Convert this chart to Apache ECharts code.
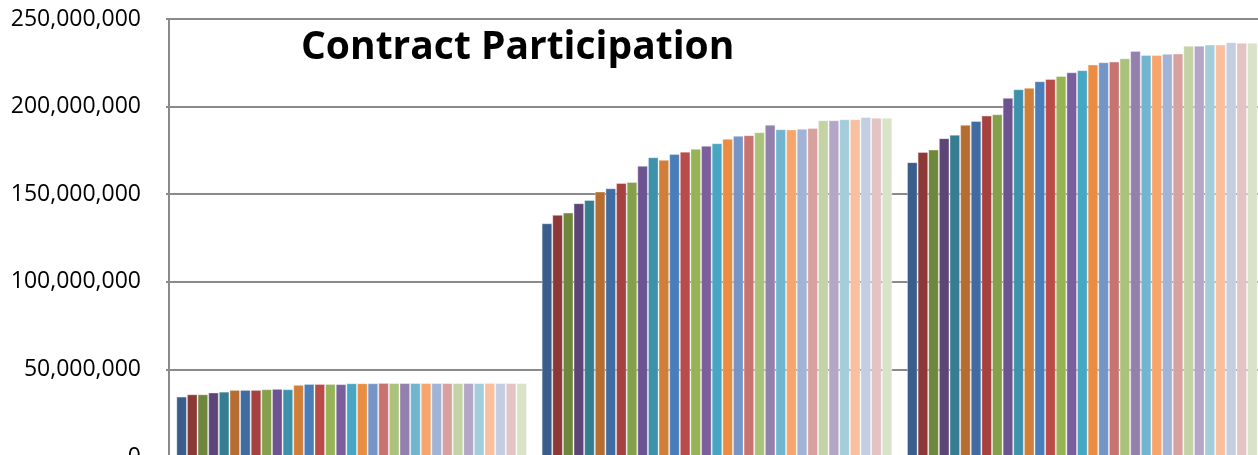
<!DOCTYPE html>
<html>
<head>
<meta charset="utf-8">
<title>Contract Participation</title>
<script src="https://cdn.jsdelivr.net/npm/echarts@6/dist/echarts.min.js"></script>
<style>
  html, body { margin: 0; padding: 0; background: #fff; }
  #chart { width: 1258px; height: 455px; }
</style>
</head>
<body>
<div id="chart"></div>
<script>
// three groups on the x axis (labels are cut off in the picture)
const categories = ['Group 1', 'Group 2', 'Group 3'];

// values per series, one array for each group (33 series)
const group1Values = [
    34.5, 35.8, 35.8, 36.8, 37.3, 38.3, 38.3, 38.3, 38.7, 38.9, 38.7,
    41.2, 41.7, 41.7, 41.7, 41.6, 42.1, 42.1, 42.1, 42.3, 42.2, 42.2,
    42.2, 42.2, 42.2, 42.2, 42.2, 42.2, 42.2, 42.3, 42.2, 42.2, 42.2
].map(function(v) { return v * 1e6; });

const group2Values = [
    133.4, 138.2, 139.5, 144.9, 146.7, 151.5, 153.4, 156.4, 157.0, 166.2, 171.1,
    169.6, 173.0, 174.3, 175.9, 177.6, 179.1, 181.6, 183.3, 183.7, 185.4, 189.7,
    187.1, 187.0, 187.4, 187.8, 192.2, 192.2, 192.8, 192.8, 194.1, 193.7, 193.7
].map(function(v) { return v * 1e6; });

const group3Values = [
    168.3, 174.1, 175.5, 182.0, 184.0, 189.6, 191.8, 194.9, 195.7, 205.0, 209.9,
    210.7, 214.5, 215.8, 217.5, 219.6, 220.8, 224.0, 225.3, 225.7, 227.6, 231.8,
    229.5, 229.5, 230.1, 230.3, 234.8, 234.8, 235.4, 235.4, 236.8, 236.4, 236.4
].map(function(v) { return v * 1e6; });

// Excel 2007 style palette, shades then tints
const seriesColors = [
    '#3a5e8c', '#8c3836', '#6e873d', '#5d4677', '#357d91', '#b66d31',
    '#416ca1', '#a54240', '#85a04b', '#6d5491', '#3e91ab', '#d17e38',
    '#4a7ebb', '#b94b48', '#96b455', '#7b5f9c', '#47a6c1', '#ea8c42',
    '#7595c6', '#c97371', '#abc27b', '#9480ad', '#71b6ce', '#f7a56d',
    '#a2b4d5', '#d8a09f', '#c3d3a5', '#b3a6c6', '#a3cddb', '#f9bf9f',
    '#c4cee2', '#e3c3c4', '#d9e3c7'
];

const yTicks = { min: 0, max: 250000000, interval: 50000000 };

function formatThousands(value) {
    return String(value).replace(/\B(?=(\d{3})+(?!\d))/g, ',');
}

const chart = echarts.init(document.getElementById('chart'));

const series = [];
for (let i = 0; i < seriesColors.length; i++) {
    series.push({
        name: 'Series ' + (i + 1),
        type: 'bar',
        data: [group1Values[i], group2Values[i], group3Values[i]],
        barGap: '0%',
        barCategoryGap: '4%',
        itemStyle: {
            color: seriesColors[i],
            borderColor: 'rgba(255, 255, 255, 0.35)',
            borderWidth: 1
        },
        silent: true
    });
}

const option = {
    backgroundColor: '#ffffff',
    animation: false,
    title: {
        text: 'Contract Participation',
        left: 301,
        top: 28,
        padding: 0,
        textStyle: {
            fontFamily: 'Open Sans',
            fontWeight: 'bold',
            fontSize: 39,
            color: '#000'
        }
    },
    grid: {
        left: 169,
        right: -7,
        top: 19,
        bottom: -2,
        outerBoundsMode: 'none',
        containLabel: false
    },
    xAxis: {
        type: 'category',
        data: categories,
        axisLine: { show: false },
        axisTick: { show: false },
        axisLabel: { show: false }
    },
    yAxis: {
        type: 'value',
        min: yTicks.min,
        max: yTicks.max,
        interval: yTicks.interval,
        axisLine: { show: true, lineStyle: { color: '#8a8a8a', width: 2 } },
        axisTick: { show: true, length: 3, lineStyle: { color: '#8a8a8a', width: 2 } },
        splitLine: { lineStyle: { color: '#8a8a8a', width: 2 } },
        axisLabel: {
            color: '#000',
            fontFamily: 'Open Sans',
            fontSize: 23,
            margin: 28,
            formatter: formatThousands
        }
    },
    series: series
};

chart.setOption(option);
</script>
</body>
</html>
